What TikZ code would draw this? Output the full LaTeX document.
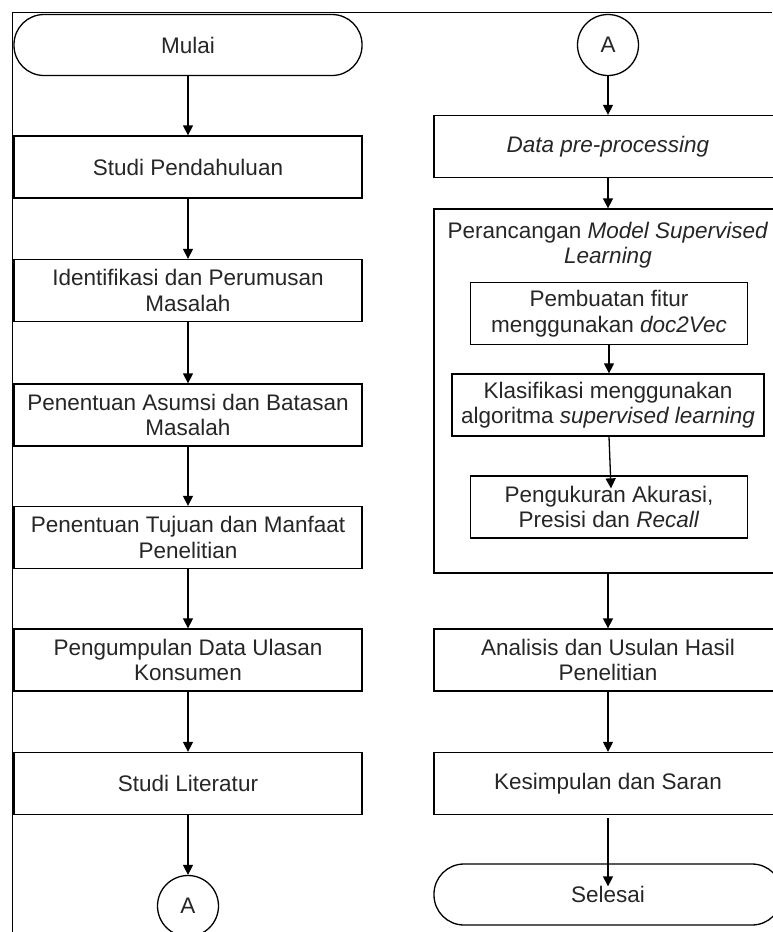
\documentclass[tikz,border=0pt]{standalone}
\usepackage{fontspec}
\setmainfont{Liberation Sans}
\usetikzlibrary{arrows.meta}

\tikzset{
  box/.style={draw, rectangle, line width=1.3pt, text=black!85,
    minimum width=348pt, minimum height=62pt, align=center, inner sep=2pt},
  term/.style={box, rounded corners=30pt, minimum height=61pt},
  konektor/.style={draw, circle, line width=1.3pt, text=black!85,
    minimum size=61pt, inner sep=0pt},
  subbox/.style={box, minimum width=277pt},
  panah/.style={line width=1.3pt, -{Triangle[length=10pt,width=10pt]}},
}

\begin{document}
\begin{tikzpicture}[x=1pt, y=-1pt, font=\fontsize{22.5pt}{25.5pt}\selectfont]
      \def\lx{188};   % left column
      \def\rx{608};   % right column
      \useasboundingbox (0,0) rectangle (772,932);
      %
      \draw[line width=1.3pt] (12.5,932) -- (12.5,12.5) -- (772,12.5);   % page frame
      %
      % left column
      \node[term] (mulai) at (\lx,45) {Mulai};
      \node[box] (studi) at (\lx,167) {Studi Pendahuluan};
      \node[box] (identifikasi) at (\lx,290.5) {Identifikasi dan Perumusan\\Masalah};
      \node[box] (asumsi) at (\lx,415) {Penentuan Asumsi dan Batasan\\Masalah};
      \node[box] (tujuan) at (\lx,537.5) {Penentuan Tujuan dan Manfaat\\Penelitian};
      \node[box] (kumpul) at (\lx,660) {Pengumpulan Data Ulasan\\Konsumen};
      \node[box] (literatur) at (\lx,783.5) {Studi Literatur};
      \node[konektor] (konB) at (\lx,906) {A};
      %
      \draw[panah] (mulai.south) -- (studi.north);
      \draw[panah] (studi.south) -- (identifikasi.north);
      \draw[panah] (identifikasi.south) -- (asumsi.north);
      \draw[panah] (asumsi.south) -- (tujuan.north);
      \draw[panah] (tujuan.south) -- (kumpul.north);
      \draw[panah] (kumpul.south) -- (literatur.north);
      \draw[panah] (literatur.south) -- (konB.north);
      %
      % right column
      \node[konektor] (konA) at (\rx,45) {A};
      \node[box] (prepro) at (\rx,146.5) {\textit{Data pre-processing}};
      \node[box, minimum height=364pt] (rancang) at (\rx,391) {};   % outer box
      \node[text=black!85, align=center] (rancangjudul) at (\rx,245)
        {Perancangan \textit{Model Supervised}\\\textit{Learning}};
      \node[subbox] (buat) at (609,313.5) {Pembuatan fitur\\menggunakan \textit{doc2Vec}};
      \node[box, minimum width=312pt] (klas) at (\rx,405)
        {Klasifikasi menggunakan\\algoritma \textit{supervised learning}};
      \node[subbox] (ukur) at (609,507) {Pengukuran Akurasi,\\Presisi dan \textit{Recall}};
      \node[box] (analisis) at (\rx,660) {Analisis dan Usulan Hasil\\Penelitian};
      \node[box] (simpul) at (\rx,783.5) {Kesimpulan dan Saran};
      \node[term] (selesai) at (\rx,894.5) {Selesai};
      %
      \draw[panah] (konA.south) -- (prepro.north);
      \draw[panah] (prepro.south) -- (rancang.north);
      \draw[panah] (buat.south) -- (buat.south |- klas.north);
      \draw[panah] ([xshift=1pt]klas.south) -- ([xshift=2pt,yshift=-13pt]ukur.north);
      \draw[panah] (rancang.south) -- (analisis.north);
      \draw[panah] (analisis.south) -- (simpul.north);
      \draw[panah] ([yshift=-3pt]simpul.south) -- ([yshift=-23pt]selesai.north);
      %
    \end{tikzpicture}
\end{document}
